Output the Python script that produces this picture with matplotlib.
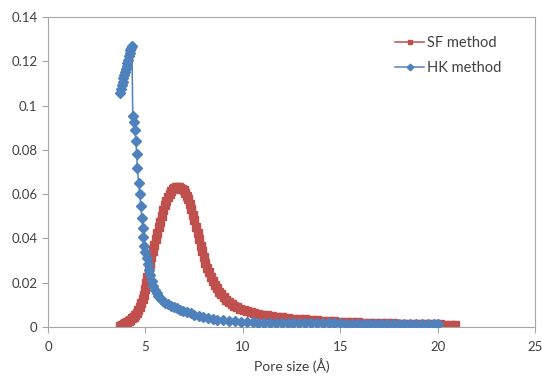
import matplotlib
matplotlib.use("Agg")
import matplotlib.pyplot as plt

# SF method (pore size in Angstrom, distribution value)
sf_x = [3.71, 3.80, 3.88, 3.97, 4.06, 4.15, 4.23, 4.31, 4.40, 4.48, 4.56, 4.64, 4.72, 4.79,
        4.86, 4.92, 4.98, 5.04, 5.10, 5.17, 5.24, 5.31, 5.38, 5.45, 5.52, 5.60, 5.68, 5.76,
        5.84, 5.92, 6.00, 6.08, 6.16, 6.24, 6.32, 6.40, 6.48, 6.56, 6.64, 6.72, 6.80, 6.88,
        6.96, 7.04, 7.12, 7.20, 7.28, 7.36, 7.44, 7.52, 7.60, 7.68, 7.76, 7.84, 7.92, 8.00,
        8.08, 8.17, 8.26, 8.35, 8.45, 8.55, 8.66, 8.77, 8.89, 9.01, 9.14, 9.28, 9.42, 9.57,
        9.72, 9.88, 10.05, 10.22, 10.40, 10.6, 10.8, 11.0, 11.25, 11.5, 11.75, 12.0, 12.3,
        12.6, 12.9, 13.2, 13.5, 13.8, 14.1, 14.4, 14.7, 15.0, 15.3, 15.6, 15.9, 16.2, 16.5,
        16.8, 17.1, 17.4, 17.7, 18.0, 18.3, 18.6, 18.9, 19.2, 19.5, 19.8, 20.1, 20.4, 20.7, 20.9]
sf_y = [0.0006, 0.0010, 0.0014, 0.0018, 0.0023, 0.0028, 0.0033, 0.0040, 0.0047, 0.0055,
        0.0065, 0.0077, 0.0090, 0.0107, 0.0125, 0.0145, 0.0170, 0.0198, 0.0226, 0.0256,
        0.0286, 0.0316, 0.0345, 0.0372, 0.0398, 0.0424, 0.0450, 0.0476, 0.0502, 0.0527,
        0.0550, 0.0570, 0.0588, 0.0602, 0.0613, 0.0621, 0.0627, 0.0630, 0.0631, 0.0631,
        0.0629, 0.0625, 0.0618, 0.0607, 0.0593, 0.0576, 0.0556, 0.0533, 0.0508, 0.0481,
        0.0453, 0.0424, 0.0396, 0.0368, 0.0341, 0.0315, 0.0291, 0.0268, 0.0247, 0.0227,
        0.0208, 0.0191, 0.0175, 0.0160, 0.0147, 0.0135, 0.0124, 0.0114, 0.0105, 0.0097,
        0.0090, 0.0083, 0.0077, 0.0072, 0.0067, 0.0063, 0.0059, 0.0055, 0.0052, 0.0049,
        0.0046, 0.0044, 0.0041, 0.0038, 0.0036, 0.0034, 0.0032, 0.0030, 0.0028, 0.0026,
        0.0025, 0.0024, 0.0023, 0.0022, 0.0021, 0.0020, 0.0019, 0.0018, 0.0017, 0.0016,
        0.0016, 0.0015, 0.0015, 0.0014, 0.0014, 0.0013, 0.0013, 0.0012, 0.0012, 0.0011,
        0.0011, 0.0010]

# HK method
hk_x = [3.71, 3.75, 3.79, 3.83, 3.87, 3.91, 3.95, 3.99, 4.03, 4.07, 4.11, 4.15, 4.19, 4.23,
        4.27, 4.31, 4.35, 4.40, 4.46, 4.51, 4.55, 4.59, 4.65, 4.71, 4.77, 4.82, 4.86, 4.90,
        4.95, 5.00, 5.06, 5.12, 5.18, 5.25, 5.32, 5.40, 5.48, 5.57, 5.67, 5.78, 5.90, 6.03,
        6.17, 6.31, 6.46, 6.62, 6.78, 6.95, 7.13, 7.32, 7.52, 7.73, 7.95, 8.2, 8.45, 8.7,
        9.0, 9.3, 9.6, 9.9, 10.2, 10.5, 10.8, 11.1, 11.4, 11.7, 12.0, 12.3, 12.6, 12.9,
        13.2, 13.5, 13.8, 14.1, 14.4, 14.7, 15.0, 15.3, 15.6, 15.9, 16.2, 16.5, 16.8, 17.1,
        17.4, 17.7, 18.0, 18.3, 18.6, 18.9, 19.2, 19.5, 19.8, 20.0]
hk_y = [0.1057, 0.1075, 0.1092, 0.1108, 0.1124, 0.1139, 0.1153, 0.1167, 0.1180, 0.1193,
        0.1205, 0.1222, 0.1238, 0.1252, 0.1262, 0.1268, 0.0955, 0.0925, 0.0888, 0.0840,
        0.0780, 0.0718, 0.0652, 0.0600, 0.0545, 0.0490, 0.0445, 0.0405, 0.0368, 0.0338,
        0.0310, 0.0283, 0.0258, 0.0233, 0.0208, 0.0186, 0.0168, 0.0153, 0.0140, 0.0128,
        0.0118, 0.0110, 0.0103, 0.0097, 0.0091, 0.0085, 0.0079, 0.0073, 0.0067, 0.0061,
        0.0056, 0.0051, 0.0046, 0.0041, 0.0037, 0.0033, 0.0030, 0.0028, 0.0026, 0.0024,
        0.0022, 0.0021, 0.0020, 0.0019, 0.0019, 0.0018, 0.0018, 0.0018, 0.0017, 0.0017,
        0.0017, 0.0016, 0.0016, 0.0016, 0.0016, 0.0016, 0.0016, 0.0015, 0.0015, 0.0015,
        0.0015, 0.0015, 0.0015, 0.0015, 0.0015, 0.0015, 0.0015, 0.0014, 0.0014, 0.0014,
        0.0014, 0.0014, 0.0014, 0.0014]

x_ticks = [0, 5, 10, 15, 20, 25]
y_ticks = [0, 0.02, 0.04, 0.06, 0.08, 0.1, 0.12, 0.14]
y_tick_labels = ["0", "0.02", "0.04", "0.06", "0.08", "0.1", "0.12", "0.14"]

plt.rcParams['font.family'] = ['Lato', 'DejaVu Sans']
text_col = '#404040'
axis_col = '#A6A6A6'

fig = plt.figure(figsize=(5.42, 3.76), dpi=100)
ax = fig.add_axes([48 / 542, 49 / 376, 487 / 542, 310 / 376])

ax.plot(sf_x, sf_y, color='#C0504D', marker='s', markersize=5.3, linewidth=1.1,
        label='SF method', zorder=2)
ax.plot(hk_x, hk_y, color='#4F81BD', marker='D', markersize=5.6, linewidth=1.1,
        label='HK method', zorder=3)

ax.set_xlim(0, 25)
ax.set_ylim(0, 0.14)
ax.set_xticks(x_ticks)
ax.set_yticks(y_ticks)
ax.set_yticklabels(y_tick_labels)
ax.tick_params(colors=axis_col, labelcolor=text_col, labelsize=9.5, length=4, width=0.8,
               direction='out')
ax.tick_params(axis='x', pad=6)
for s in ax.spines.values():
    s.set_color(axis_col)
    s.set_linewidth(0.8)

ax.set_xlabel('Pore size (Å)', color=text_col, fontsize=10, labelpad=4)

leg = ax.legend(loc='upper left', bbox_to_anchor=((395 - 48) / 487, (327 - 36) / 310),
                frameon=False, fontsize=10.5, handlelength=2.0, markerscale=0.6,
                labelspacing=0.75, handletextpad=0.2, borderaxespad=0, borderpad=0)
for t in leg.get_texts():
    t.set_color(text_col)

fig.savefig('out.png', dpi=100)
